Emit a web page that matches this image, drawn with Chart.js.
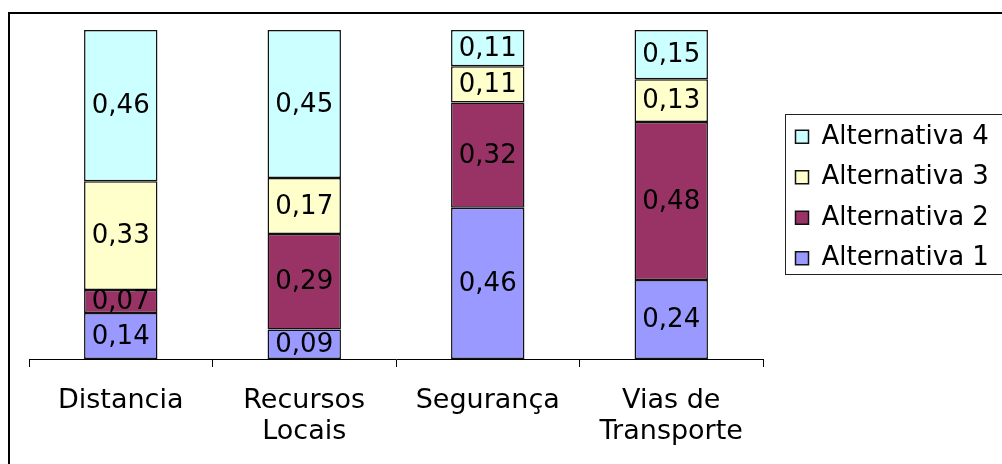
<!DOCTYPE html>
<html>
<head>
<meta charset="utf-8">
<script src="https://cdn.jsdelivr.net/npm/chart.js@4.4.1/dist/chart.umd.min.js"></script>
<style>
  html, body { margin: 0; padding: 0; background: #fff; }
  #wrap { width: 1002px; height: 464px; position: relative; }
</style>
</head>
<body>
<div id="wrap"><canvas id="chart"></canvas></div>
<script>
// Categories (multi-line labels as arrays)
const categories = ['Distancia', ['Recursos', 'Locais'], 'Segurança', ['Vias de', 'Transporte']];

// Series names and shares per category
const seriesNames = ['Alternativa 1', 'Alternativa 2', 'Alternativa 3', 'Alternativa 4'];
const alternativa1 = [0.14, 0.09, 0.46, 0.24];
const alternativa2 = [0.07, 0.29, 0.32, 0.48];
const alternativa3 = [0.33, 0.17, 0.11, 0.13];
const alternativa4 = [0.46, 0.45, 0.11, 0.15];

const seriesColors = ['#9999FF', '#993366', '#FFFFCC', '#CCFFFF'];
const seriesValues = [alternativa1, alternativa2, alternativa3, alternativa4];

const FONT = 'DejaVu Sans';
Chart.defaults.font.family = FONT;
Chart.defaults.color = '#000';

const LEGEND_PAD = 14.5;

// Decimal comma formatting
const fmt = v => v.toFixed(2).replace('.', ',');

// White background and outer frame of the chart
const framePlugin = {
  id: 'frame',
  beforeDraw(chart) {
    const ctx = chart.ctx;
    ctx.save();
    ctx.fillStyle = '#fff';
    ctx.fillRect(0, 0, chart.width, chart.height);
    ctx.strokeStyle = '#000';
    ctx.lineWidth = 2;
    ctx.strokeRect(9, 13, chart.width + 40, chart.height + 40);
    ctx.restore();
  }
};

// Legend sizing/placement and its bordered box
const legendBoxPlugin = {
  id: 'legendBox',
  beforeLayout(chart) {
    const lg = chart.legend;
    if (lg && !lg._fixedFit) {
      const origFit = lg.fit;
      lg.fit = function () {
        origFit.call(this);
        this.width = 239;
      };
      lg._fixedFit = true;
    }
  },
  afterLayout(chart) {
    const lg = chart.legend;
    lg.left += 18; lg.right += 18;
    lg.top += 3; lg.bottom += 3;
  },
  afterDraw(chart) {
    const lg = chart.legend;
    const colH = lg.columnSizes[0].height;
    const itemTop = (lg.top + LEGEND_PAD + lg.bottom - colH) / 2;
    const c0 = itemTop + 13;
    const cN = c0 + (seriesNames.length - 1) * (26 + LEGEND_PAD);
    const top = Math.round(c0 - 22.5) + 0.5;
    const bottom = Math.round(cN + 16) + 0.5;
    const left = Math.round(lg.left + 4) + 0.5;
    const ctx = chart.ctx;
    ctx.save();
    ctx.strokeStyle = '#222';
    ctx.lineWidth = 1;
    ctx.strokeRect(left, top, chart.width + 20 - left, bottom - top);
    ctx.restore();
  }
};

// Value labels centred in each stacked segment
const valueLabelPlugin = {
  id: 'valueLabels',
  afterDatasetsDraw(chart) {
    const ctx = chart.ctx;
    ctx.save();
    ctx.font = '26px "' + FONT + '"';
    ctx.fillStyle = '#000';
    ctx.textAlign = 'center';
    ctx.textBaseline = 'middle';
    chart.data.datasets.forEach((ds, di) => {
      const meta = chart.getDatasetMeta(di);
      meta.data.forEach((bar, i) => {
        const y = (bar.y + bar.base) / 2;
        ctx.fillText(fmt(ds.data[i]), bar.x, y + 1);
      });
    });
    ctx.restore();
  }
};

const datasets = seriesNames.map((name, k) => ({
  label: name,
  data: seriesValues[k],
  backgroundColor: seriesColors[k],
  borderColor: '#111',
  borderWidth: 1.5,
  borderSkipped: false,
  barPercentage: 0.4,
  categoryPercentage: 1.0
}));

new Chart(document.getElementById('chart'), {
  type: 'bar',
  data: { labels: categories, datasets },
  options: {
    responsive: true,
    maintainAspectRatio: false,
    animation: false,
    layout: { padding: { left: 29, top: 30, right: 0, bottom: 0 } },
    plugins: {
      tooltip: { enabled: false },
      legend: {
        position: 'right',
        fullSize: false,
        reverse: true,
        labels: {
          boxWidth: 13,
          boxHeight: 13,
          padding: LEGEND_PAD,
          font: { size: 26, family: FONT },
          color: '#000'
        }
      }
    },
    scales: {
      x: {
        stacked: true,
        offset: true,
        grid: {
          offset: true,
          drawOnChartArea: false,
          drawTicks: true,
          tickLength: 8,
          color: '#000',
          lineWidth: 1
        },
        border: { display: true, color: '#000', width: 1 },
        ticks: {
          font: { size: 27, family: FONT, lineHeight: 1.15 },
          color: '#000',
          padding: 18,
          maxRotation: 0,
          autoSkip: false
        },
        afterFit(scale) { scale.height = 105; }
      },
      y: {
        stacked: true,
        min: 0,
        max: 1,
        display: false
      }
    }
  },
  plugins: [framePlugin, legendBoxPlugin, valueLabelPlugin]
});
</script>
</body>
</html>
